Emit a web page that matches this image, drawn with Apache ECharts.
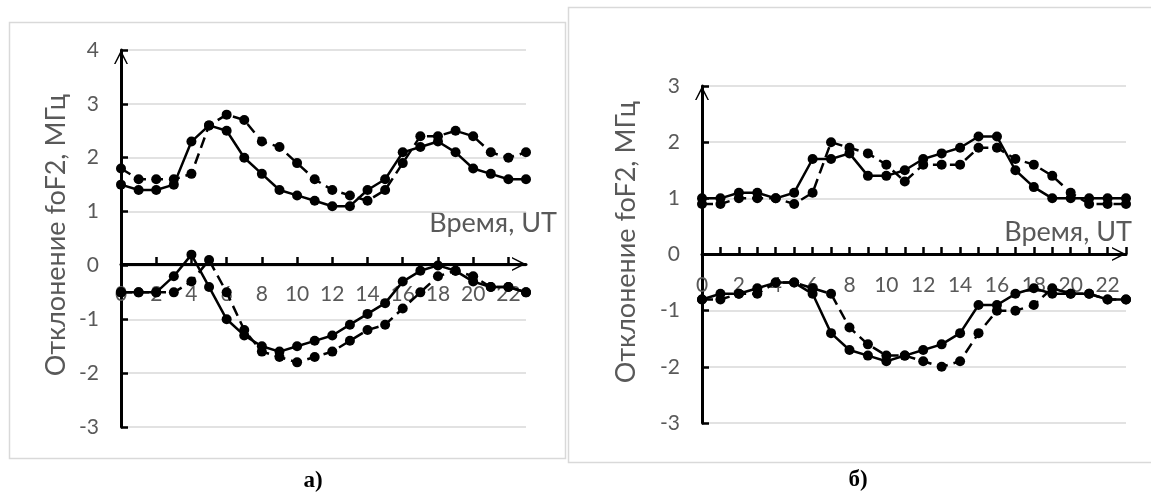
<!DOCTYPE html>
<html>
<head>
<meta charset="utf-8">
<script src="https://cdn.jsdelivr.net/npm/echarts@6/dist/echarts.min.js"></script>
<style>
html,body{margin:0;padding:0;background:#fff;}
#chart{width:1151px;height:493px;}
</style>
</head>
<body>
<div id="chart"></div>
<script>
// ---- data ----
const hours = ['0','1','2','3','4','5','6','7','8','9','10','11','12','13','14','15','16','17','18','19','20','21','22','23'];
const yTicksA = [-3, 4];
const yTicksB = [-3, 3];

// panel а)
const aSolidUpper  = [1.5,1.4,1.4,1.5,2.3,2.6,2.5,2.0,1.7,1.4,1.3,1.2,1.1,1.1,1.4,1.6,2.1,2.2,2.3,2.1,1.8,1.7,1.6,1.6];
const aDashedUpper = [1.8,1.6,1.6,1.6,1.7,2.6,2.8,2.7,2.3,2.2,1.9,1.6,1.4,1.3,1.2,1.4,1.9,2.4,2.4,2.5,2.4,2.1,2.0,2.1];
const aSolidLower  = [-0.5,-0.5,-0.5,-0.2,0.2,-0.4,-1.0,-1.3,-1.5,-1.6,-1.5,-1.4,-1.3,-1.1,-0.9,-0.7,-0.3,-0.1,0.0,-0.1,-0.3,-0.4,-0.4,-0.5];
const aDashedLower = [-0.5,-0.5,-0.5,-0.5,-0.3,0.1,-0.5,-1.2,-1.6,-1.7,-1.8,-1.7,-1.6,-1.4,-1.2,-1.1,-0.8,-0.5,-0.2,-0.1,-0.2,-0.4,-0.4,-0.5];

// panel б)
const bSolidUpper  = [1.0,1.0,1.1,1.1,1.0,1.1,1.7,1.7,1.8,1.4,1.4,1.5,1.7,1.8,1.9,2.1,2.1,1.5,1.2,1.0,1.0,1.0,1.0,1.0];
const bDashedUpper = [0.9,0.9,1.0,1.0,1.0,0.9,1.1,2.0,1.9,1.8,1.6,1.3,1.6,1.6,1.6,1.9,1.9,1.7,1.6,1.4,1.1,0.9,0.9,0.9];
const bSolidLower  = [-0.8,-0.7,-0.7,-0.6,-0.5,-0.5,-0.7,-1.4,-1.7,-1.8,-1.9,-1.8,-1.7,-1.6,-1.4,-0.9,-0.9,-0.7,-0.6,-0.7,-0.7,-0.7,-0.8,-0.8];
const bDashedLower = [-0.8,-0.8,-0.7,-0.7,-0.5,-0.5,-0.6,-0.7,-1.3,-1.6,-1.8,-1.8,-1.9,-2.0,-1.9,-1.4,-1.0,-1.0,-0.9,-0.6,-0.7,-0.7,-0.8,-0.8];

const yTitle = 'Отклонение foF2, МГц';
const xTitle = 'Время, UT';
const panelLabels = ['а)', 'б)'];

// ---- chart ----
const chart = echarts.init(document.getElementById('chart'), null, {renderer: 'canvas'});
const FONT = 'Lato, "Open Sans", sans-serif';
const GREY = '#595959';
const chevron = 'path://M0,14 L7,0 L14,14 L12.5,14 L7,3.5 L1.5,14 Z';

const gridA = {left: 121, top: 50, width: 405, height: 377};
const gridB = {left: 702, top: 86, width: 424, height: 337};

function xAxis(grid, tickInterval, margin, offset) {
  return {
    gridIndex: grid, type: 'category', data: hours, boundaryGap: false, position: 'bottom', offset: offset,
    axisLine: {onZero: false, lineStyle: {color: '#000', width: 3},
      symbol: ['none', chevron], symbolSize: [14, 16], symbolOffset: [0, -7]},
    axisTick: {show: true, inside: true, length: 7, interval: tickInterval, lineStyle: {color: '#000', width: 2.5}},
    axisLabel: {interval: 1, margin: margin, color: GREY, fontSize: 21, fontFamily: FONT},
    splitLine: {show: false}
  };
}
function yAxis(grid, ext) {
  return {
    gridIndex: grid, type: 'value', min: ext[0], max: ext[1], interval: 1, position: 'left',
    axisLine: {show: true, onZero: false, lineStyle: {color: '#000', width: 3},
      symbol: ['none', chevron], symbolSize: [14, 16], symbolOffset: [0, -7]},
    axisTick: {show: true, inside: true, length: 7, lineStyle: {color: '#000', width: 2.5}},
    axisLabel: {show: true, inside: false, margin: 22, align: 'right', color: GREY, fontSize: 21, fontFamily: FONT},
    splitLine: {show: true, lineStyle: {color: '#d9d9d9', width: 1.5}}
  };
}
function series(grid, data, dashed) {
  return {
    type: 'line', xAxisIndex: grid, yAxisIndex: grid, data: data,
    symbol: 'circle', symbolSize: 10, showSymbol: true,
    itemStyle: {color: '#000'},
    lineStyle: {color: '#000', width: 2.5, type: dashed ? [11, 6] : 'solid'},
    z: 3
  };
}

chart.setOption({
  animation: false,
  backgroundColor: '#fff',
  grid: [gridA, gridB],
  xAxis: [xAxis(0, 1, 20, -163), xAxis(1, 0, 21, -169)],
  yAxis: [yAxis(0, yTicksA), yAxis(1, yTicksB)],
  series: [
    series(0, aSolidUpper, false), series(0, aDashedUpper, true),
    series(0, aSolidLower, false), series(0, aDashedLower, true),
    series(1, bSolidUpper, false), series(1, bDashedUpper, true),
    series(1, bSolidLower, false), series(1, bDashedLower, true)
  ],
  graphic: [
    {type: 'rect', shape: {x: 9.5, y: 22.5, width: 556, height: 436}, style: {fill: 'none', stroke: '#d9d9d9', lineWidth: 1.5}, z: -1},
    {type: 'rect', shape: {x: 568.5, y: 7.5, width: 620, height: 455}, style: {fill: 'none', stroke: '#d9d9d9', lineWidth: 1.5}, z: -1},
    {type: 'text', x: 56, y: 235, rotation: Math.PI / 2, style: {text: yTitle, font: '27px ' + FONT, fill: GREY, align: 'center', verticalAlign: 'middle'}},
    {type: 'text', x: 626, y: 242, rotation: Math.PI / 2, style: {text: yTitle, font: '27px ' + FONT, fill: GREY, align: 'center', verticalAlign: 'middle'}},
    {type: 'text', x: 557, y: 223, style: {text: xTitle, font: '27px ' + FONT, fill: GREY, align: 'right', verticalAlign: 'middle'}},
    {type: 'text', x: 1132, y: 232, style: {text: xTitle, font: '27px ' + FONT, fill: GREY, align: 'right', verticalAlign: 'middle'}},
    {type: 'text', x: 313, y: 481, style: {text: panelLabels[0], font: 'bold 23px "Liberation Serif", serif', fill: '#000', align: 'center', verticalAlign: 'middle'}},
    {type: 'text', x: 858, y: 480, style: {text: panelLabels[1], font: 'bold 23px "Liberation Serif", serif', fill: '#000', align: 'center', verticalAlign: 'middle'}}
  ]
});
</script>
</body>
</html>
